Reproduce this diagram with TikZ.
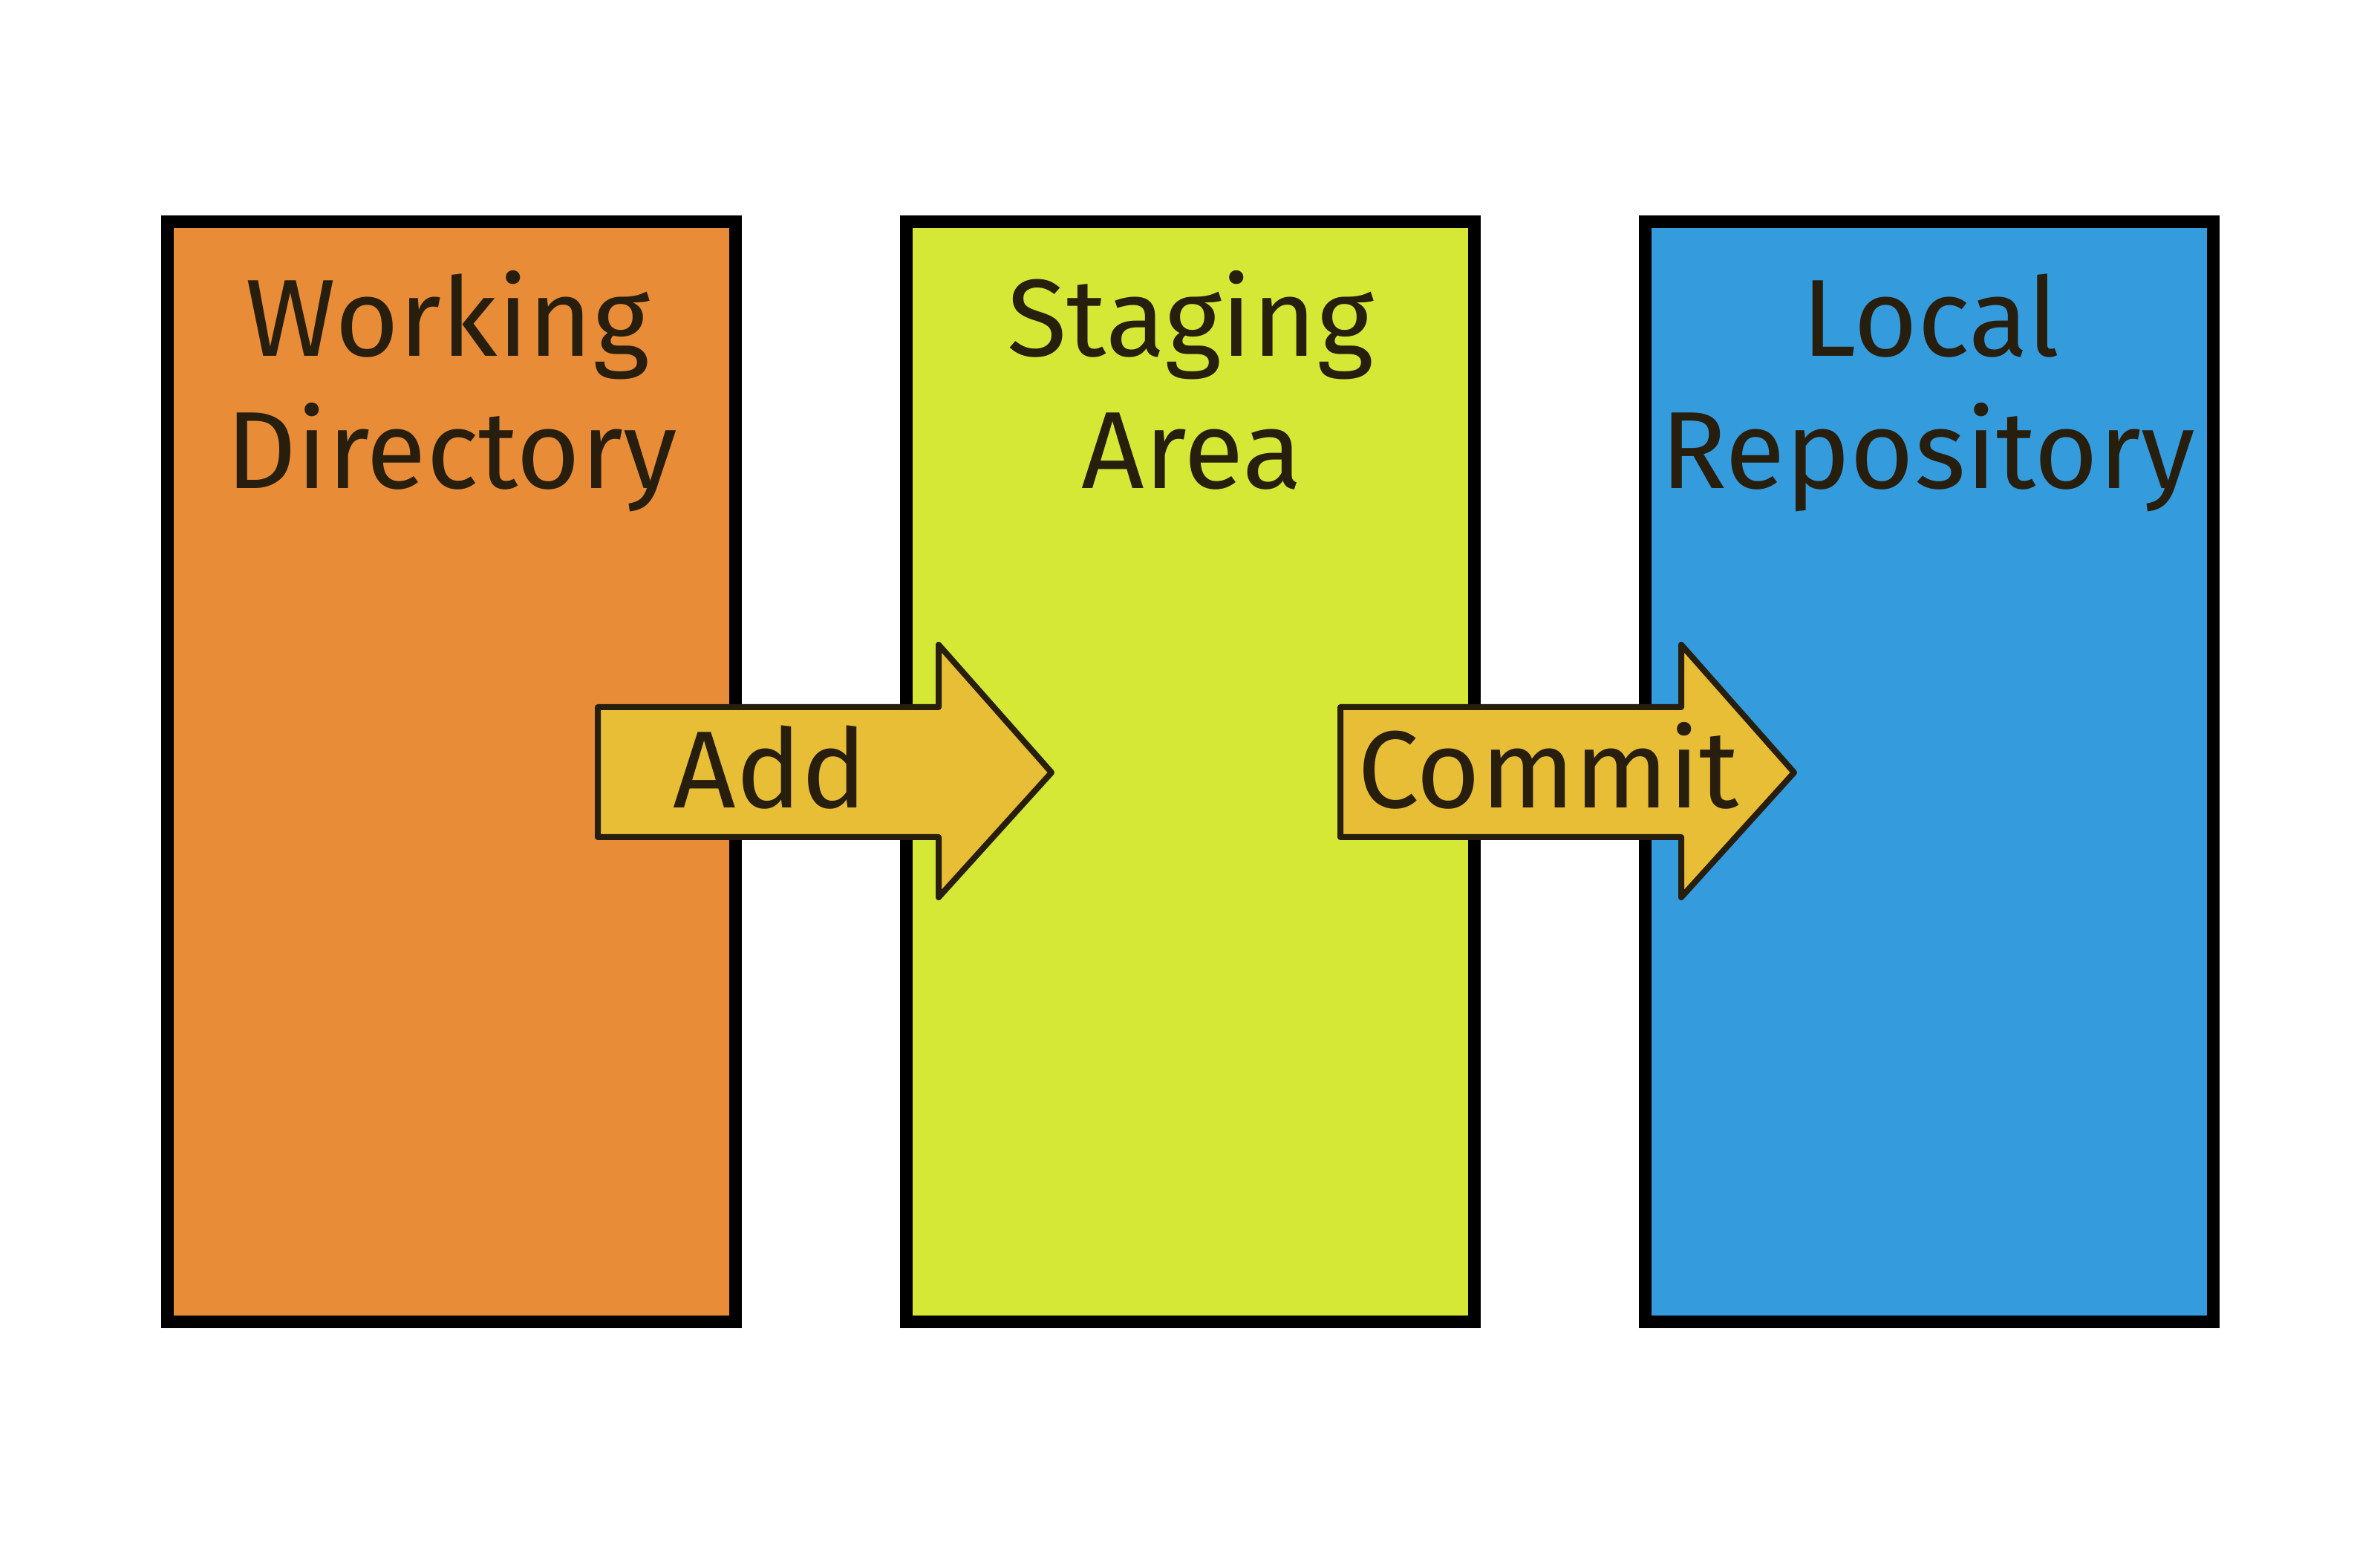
\documentclass[tikz,border=0pt]{standalone}
\usepackage{fontspec}
\setmainfont{Fira Sans}
\definecolor{wdorange}{RGB}{232,140,56}
\definecolor{stgreen}{RGB}{213,232,53}
\definecolor{lrblue}{RGB}{52,155,221}
\definecolor{arrowyel}{RGB}{232,190,54}
\definecolor{inkdark}{RGB}{40,30,14}
\begin{document}
\begin{tikzpicture}[
  areabox/.style={draw=black, line width=0.17cm, minimum width=7.65cm, minimum height=14.81cm, inner sep=0pt},
  label/.style={text=inkdark, font=\fontsize{42}{50}\selectfont, anchor=base, inner sep=0pt},
  bigarrow/.style={fill=arrowyel, draw=inkdark, line width=0.08cm, line join=round, line cap=round}
]
\useasboundingbox[fill=white] (0,0) rectangle (32.05,20.88);
% boxes
\node[areabox, fill=wdorange] (wd) at (6.08,10.49) {};
\node[areabox, fill=stgreen] (sa) at (16.03,10.49) {};
\node[areabox, fill=lrblue] (lr) at (25.98,10.49) {};
% box labels
\node[label] (wd1) at (6.03,16.08) {Working};
\node[label] (wd2) at (6.08,14.30) {Directory};
\node[label] (sa1) at (16.03,16.08) {Staging};
\node[label] (sa2) at (16.05,14.30) {Area};
\node[label] (lr1) at (26.00,16.08) {Local};
\node[label] (lr2) at (25.96,14.30) {Repository};
% arrows
\draw[bigarrow] (8.05,11.36) -- (12.64,11.36) -- (12.64,12.20) -- (14.16,10.48) -- (12.64,8.80) -- (12.64,9.61) -- (8.05,9.61) -- cycle;
\draw[bigarrow] (18.05,11.36) -- (22.64,11.36) -- (22.64,12.20) -- (24.16,10.48) -- (22.64,8.80) -- (22.64,9.61) -- (18.05,9.61) -- cycle;
\node[label] (add) at (10.37,10.00) {Add};
\node[label] (commit) at (20.85,10.00) {Commit};
\end{tikzpicture}
\end{document}
